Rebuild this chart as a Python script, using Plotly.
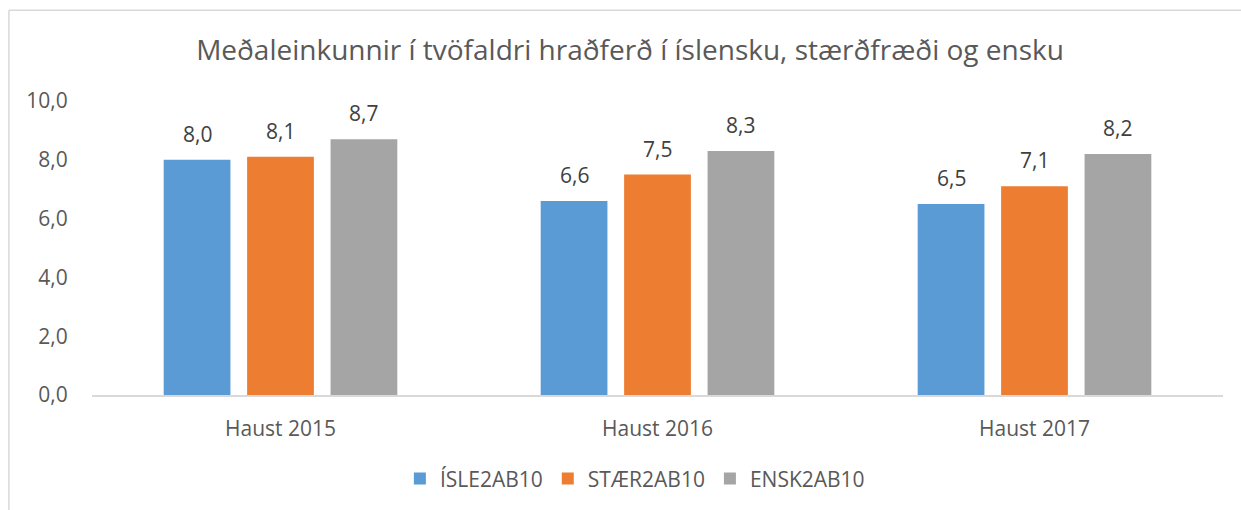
import plotly.graph_objects as go

categories = ["Haust 2015", "Haust 2016", "Haust 2017"]
series_names = ["ÍSLE2AB10", "STÆR2AB10", "ENSK2AB10"]
isle = [8.0, 6.6, 6.5]
staer = [8.1, 7.5, 7.1]
ensk = [8.7, 8.3, 8.2]
y_ticks = [0, 2, 4, 6, 8, 10]

colors = ["#5B9BD5", "#ED7D31", "#A5A5A5"]
font_family = "'Open Sans', sans-serif"
BARGAP = 0.336
BARGROUPGAP = 0.2

fig = go.Figure()
all_series = [isle, staer, ensk]
for name, vals, col in zip(series_names, all_series, colors):
    fig.add_trace(go.Bar(
        name=name, x=categories, y=vals, marker=dict(color=col, line=dict(width=0)),
    ))

# data labels, placed above each bar through the axes
slot = (1 - BARGAP) / len(all_series)
for i, vals in enumerate(all_series):
    for j, v in enumerate(vals):
        fig.add_annotation(
            x=j + (i - (len(all_series) - 1) / 2) * slot, y=v, xref="x", yref="y",
            text=f"{v:.1f}".replace(".", ","), showarrow=False,
            yanchor="bottom", yshift=10,
            font=dict(size=21, color="#404040", family=font_family),
        )

fig.update_layout(
    width=1241, height=510,
    paper_bgcolor="white", plot_bgcolor="white",
    separators=",.",
    barmode="group", bargap=BARGAP, bargroupgap=BARGROUPGAP,
    margin=dict(l=92, r=18, t=101, b=115, autoexpand=False),
    font=dict(family=font_family, color="#595959"),
    title=dict(text="Meðaleinkunnir í tvöfaldri hraðferð í íslensku, stærðfræði og ensku",
               x=0.5077, xanchor="center", y=0.902, yanchor="middle",
               font=dict(size=28, color="#595959", family=font_family)),
    xaxis=dict(showline=True, linecolor="#D9D9D9", linewidth=1.5, showgrid=False,
               automargin=False,
               ticks="outside", ticklen=14, tickcolor="rgba(0,0,0,0)",
               tickfont=dict(size=21, color="#595959")),
    yaxis=dict(range=[0, 10], tickvals=y_ticks, tickformat=".1f", showgrid=False,
               zeroline=False, showline=False, automargin=False,
               ticks="outside", ticklen=19, tickcolor="rgba(0,0,0,0)",
               tickfont=dict(size=21, color="#595959")),
    legend=dict(orientation="h", x=0.48, xanchor="center", y=-0.285, yanchor="middle",
                font=dict(size=21, color="#595959"), itemwidth=30,
                tracegroupgap=0),
    showlegend=True,
)

fig.add_shape(type="line", xref="paper", yref="paper", x0=-0.0735, x1=1.1, y0=1.3085, y1=1.3085,
              line=dict(color="#D9D9D9", width=1.5))
fig.add_shape(type="line", xref="paper", yref="paper", x0=-0.0735, x1=-0.0735, y0=1.3085, y1=-0.5,
              line=dict(color="#D9D9D9", width=1.5))

fig.write_html("out.html", config={"displayModeBar": False},
               post_script="document.body.style.margin='0px';")
